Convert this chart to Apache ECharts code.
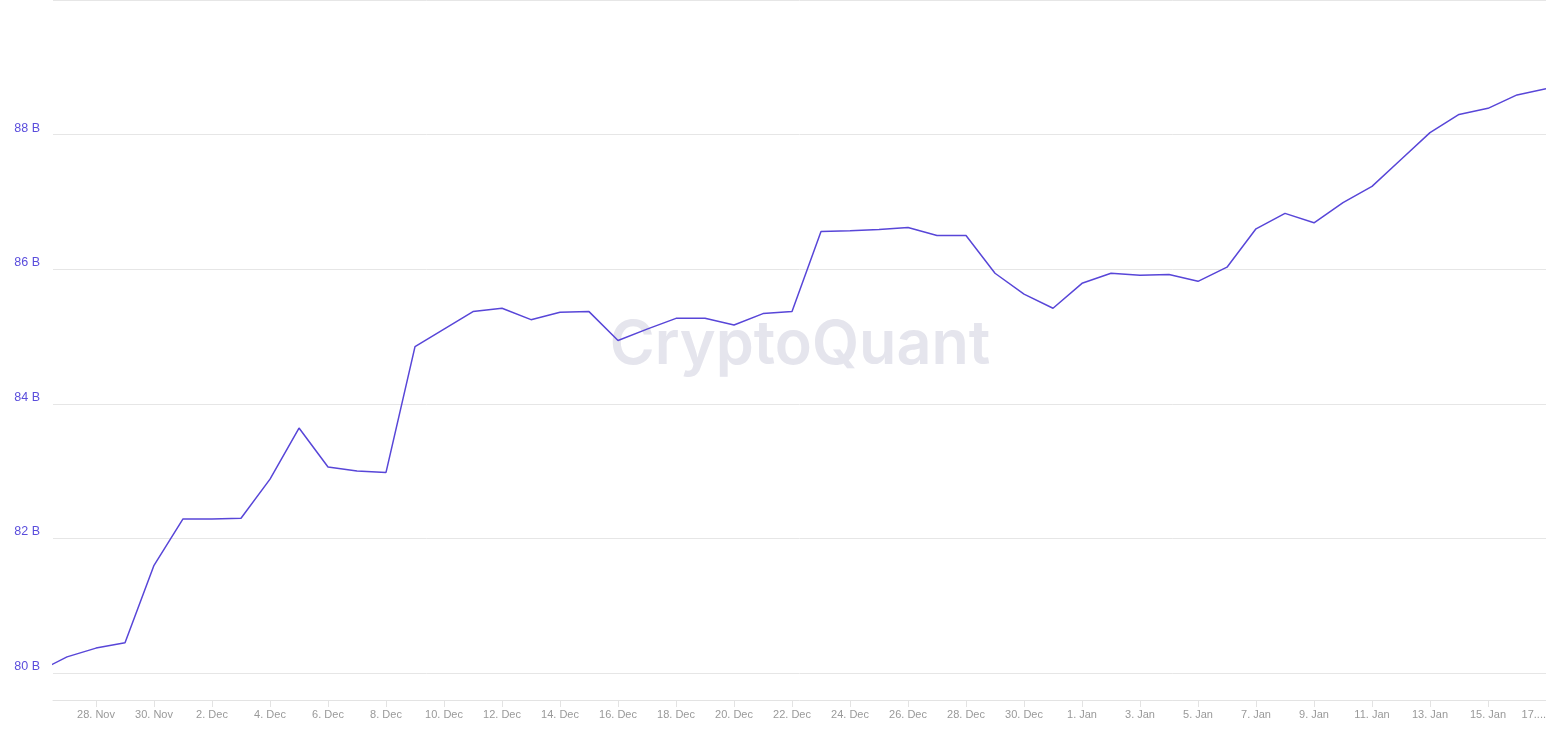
<!DOCTYPE html>
<html>
<head>
<meta charset="utf-8">
<script src="https://cdn.jsdelivr.net/npm/echarts@6/dist/echarts.min.js"></script>
<style>
  html, body { margin: 0; padding: 0; background: #fff; }
  #main { width: 1546px; height: 732px; }
</style>
</head>
<body>
<div id="main"></div>
<script>
// daily values, in billions
var dates = [
  '2023-11-26', '2023-11-27', '2023-11-28', '2023-11-29', '2023-11-30',
  '2023-12-01', '2023-12-02', '2023-12-03', '2023-12-04', '2023-12-05',
  '2023-12-06', '2023-12-07', '2023-12-08', '2023-12-09', '2023-12-10',
  '2023-12-11', '2023-12-12', '2023-12-13', '2023-12-14', '2023-12-15',
  '2023-12-16', '2023-12-17', '2023-12-18', '2023-12-19', '2023-12-20',
  '2023-12-21', '2023-12-22', '2023-12-23', '2023-12-24', '2023-12-25',
  '2023-12-26', '2023-12-27', '2023-12-28', '2023-12-29', '2023-12-30',
  '2023-12-31', '2024-01-01', '2024-01-02', '2024-01-03', '2024-01-04',
  '2024-01-05', '2024-01-06', '2024-01-07', '2024-01-08', '2024-01-09',
  '2024-01-10', '2024-01-11', '2024-01-12', '2024-01-13', '2024-01-14',
  '2024-01-15', '2024-01-16', '2024-01-17'
];
var supply = [
  80.02, 80.24, 80.37, 80.45, 81.60,
  82.29, 82.29, 82.30, 82.88, 83.64,
  83.06, 83.00, 82.98, 84.85, 85.11,
  85.37, 85.42, 85.25, 85.36, 85.37,
  84.94, 85.11, 85.27, 85.27, 85.17,
  85.34, 85.37, 86.56, 86.57, 86.59,
  86.62, 86.50, 86.50, 85.94, 85.63,
  85.42, 85.79, 85.94, 85.91, 85.92,
  85.82, 86.03, 86.60, 86.83, 86.69,
  86.99, 87.23, 87.63, 88.03, 88.30,
  88.39, 88.59, 88.68
];
var tickDates = [
  '2023-11-28', '2023-11-30', '2023-12-02', '2023-12-04', '2023-12-06',
  '2023-12-08', '2023-12-10', '2023-12-12', '2023-12-14', '2023-12-16',
  '2023-12-18', '2023-12-20', '2023-12-22', '2023-12-24', '2023-12-26',
  '2023-12-28', '2023-12-30', '2024-01-01', '2024-01-03', '2024-01-05',
  '2024-01-07', '2024-01-09', '2024-01-11', '2024-01-13', '2024-01-15',
  '2024-01-17'
];
var tickLabels = [
  '28. Nov', '30. Nov', '2. Dec', '4. Dec', '6. Dec',
  '8. Dec', '10. Dec', '12. Dec', '14. Dec', '16. Dec',
  '18. Dec', '20. Dec', '22. Dec', '24. Dec', '26. Dec',
  '28. Dec', '30. Dec', '1. Jan', '3. Jan', '5. Jan',
  '7. Jan', '9. Jan', '11. Jan', '13. Jan', '15. Jan',
  '17....'
];

var tickTimes = tickDates.map(function (d) { return Date.parse(d); });
var seriesData = dates.map(function (d, i) { return [Date.parse(d), supply[i]]; });

var chart = echarts.init(document.getElementById('main'));

var option = {
  animation: false,
  backgroundColor: '#fff',
  grid: { left: 53, right: 0, top: 0, bottom: 59, outerBoundsMode: 'none' },
  graphic: [{
    type: 'text',
    x: 800,
    y: 346,
    z: -1,
    style: {
      text: 'CryptoQuant',
      font: '600 61px Inter, "Noto Sans", sans-serif',
      fill: '#e5e5ed',
      textAlign: 'center',
      textVerticalAlign: 'middle'
    }
  }],
  xAxis: {
    type: 'value',
    min: Date.parse('2023-11-28') - 35.6 * 3600 * 1000,
    max: Date.parse('2024-01-17'),
    offset: 27,
    axisLine: { show: true, lineStyle: { color: '#e3e3e3', width: 1 } },
    axisTick: { show: true, length: 7, customValues: tickTimes, lineStyle: { color: '#e3e3e3' } },
    axisLabel: {
      customValues: tickTimes,
      color: '#999',
      fontSize: 11,
      fontFamily: '"Liberation Sans", Arial, sans-serif',
      margin: 9,
      alignMaxLabel: 'right',
      formatter: function (val) {
        var i = tickTimes.indexOf(val);
        return i >= 0 ? tickLabels[i] : '';
      }
    },
    splitLine: { show: false }
  },
  yAxis: {
    type: 'value',
    min: 80,
    max: 90,
    interval: 2,
    axisLine: { show: false },
    axisTick: { show: false },
    axisLabel: {
      color: '#5a4ddc',
      fontSize: 12.5,
      fontFamily: '"Liberation Sans", Arial, sans-serif',
      margin: 13,
      verticalAlign: 'bottom',
      showMaxLabel: false,
      formatter: function (v) { return v + ' B'; }
    },
    splitLine: { lineStyle: { color: '#e6e6e6', width: 1 } }
  },
  series: [{
    type: 'line',
    data: seriesData,
    showSymbol: false,
    lineStyle: { color: '#5846d8', width: 1.5 },
    itemStyle: { color: '#5846d8' }
  }]
};

chart.setOption(option);
</script>
</body>
</html>
